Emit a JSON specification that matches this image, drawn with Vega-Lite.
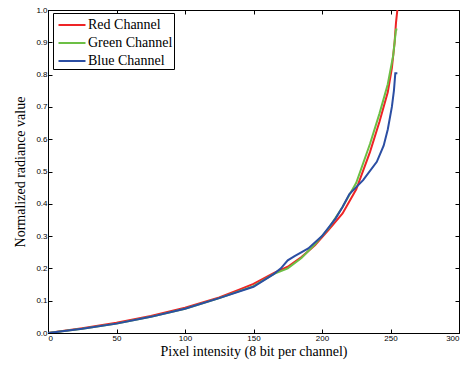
{
  "$schema": "https://vega.github.io/schema/vega-lite/v6.json",
  "width": 411,
  "height": 323,
  "autosize": "none",
  "padding": {"left": 48, "top": 10, "right": 1, "bottom": 32},
  "config": {
    "view": {"stroke": "black", "strokeWidth": 1},
    "axis": {"grid": false, "domainColor": "black", "tickColor": "black", "labelFont": "Liberation Sans, Arial, sans-serif", "labelFontSize": 8, "labelColor": "black", "titleFont": "Liberation Serif, Times New Roman, serif", "titleFontSize": 14, "titleFontWeight": "normal", "titleColor": "black", "tickSize": -4, "labelPadding": 5}
  },
  "data": {"values": [
    {"c":"Red Channel","v":0,"r":0},{"c":"Red Channel","v":25,"r":0.015},{"c":"Red Channel","v":50,"r":0.032},{"c":"Red Channel","v":75,"r":0.053},{"c":"Red Channel","v":100,"r":0.078},{"c":"Red Channel","v":125,"r":0.11},{"c":"Red Channel","v":140,"r":0.135},{"c":"Red Channel","v":150,"r":0.152},{"c":"Red Channel","v":165,"r":0.186},{"c":"Red Channel","v":175,"r":0.205},{"c":"Red Channel","v":185,"r":0.235},{"c":"Red Channel","v":195,"r":0.272},{"c":"Red Channel","v":205,"r":0.32},{"c":"Red Channel","v":215,"r":0.37},{"c":"Red Channel","v":225,"r":0.445},{"c":"Red Channel","v":235,"r":0.56},{"c":"Red Channel","v":242,"r":0.655},{"c":"Red Channel","v":248,"r":0.745},{"c":"Red Channel","v":251,"r":0.82},{"c":"Red Channel","v":253,"r":0.9},{"c":"Red Channel","v":254,"r":0.96},{"c":"Red Channel","v":255,"r":1.0},
    {"c":"Green Channel","v":0,"r":0},{"c":"Green Channel","v":25,"r":0.013},{"c":"Green Channel","v":50,"r":0.029},{"c":"Green Channel","v":75,"r":0.05},{"c":"Green Channel","v":100,"r":0.075},{"c":"Green Channel","v":125,"r":0.108},{"c":"Green Channel","v":150,"r":0.145},{"c":"Green Channel","v":165,"r":0.183},{"c":"Green Channel","v":175,"r":0.2},{"c":"Green Channel","v":185,"r":0.232},{"c":"Green Channel","v":195,"r":0.275},{"c":"Green Channel","v":205,"r":0.325},{"c":"Green Channel","v":215,"r":0.39},{"c":"Green Channel","v":225,"r":0.465},{"c":"Green Channel","v":235,"r":0.585},{"c":"Green Channel","v":242,"r":0.68},{"c":"Green Channel","v":248,"r":0.77},{"c":"Green Channel","v":252,"r":0.86},{"c":"Green Channel","v":254,"r":0.94},{"c":"Green Channel","v":255,"r":0.94},
    {"c":"Blue Channel","v":0,"r":0},{"c":"Blue Channel","v":25,"r":0.013},{"c":"Blue Channel","v":50,"r":0.029},{"c":"Blue Channel","v":75,"r":0.05},{"c":"Blue Channel","v":100,"r":0.075},{"c":"Blue Channel","v":125,"r":0.108},{"c":"Blue Channel","v":150,"r":0.143},{"c":"Blue Channel","v":165,"r":0.183},{"c":"Blue Channel","v":170,"r":0.2},{"c":"Blue Channel","v":175,"r":0.225},{"c":"Blue Channel","v":180,"r":0.238},{"c":"Blue Channel","v":190,"r":0.262},{"c":"Blue Channel","v":200,"r":0.3},{"c":"Blue Channel","v":210,"r":0.355},{"c":"Blue Channel","v":215,"r":0.39},{"c":"Blue Channel","v":220,"r":0.43},{"c":"Blue Channel","v":230,"r":0.473},{"c":"Blue Channel","v":240,"r":0.53},{"c":"Blue Channel","v":245,"r":0.58},{"c":"Blue Channel","v":248,"r":0.63},{"c":"Blue Channel","v":251,"r":0.7},{"c":"Blue Channel","v":252.5,"r":0.75},{"c":"Blue Channel","v":253.5,"r":0.804},{"c":"Blue Channel","v":255,"r":0.804}
  ]},
  "layer": [
    {
      "mark": {"type": "line", "strokeWidth": 2, "clip": true},
      "encoding": {
        "x": {"field": "v", "type": "quantitative", "scale": {"domain": [0, 300], "nice": false}, "axis": {"values": [0,50,100,150,200,250,300], "title": "Pixel intensity (8 bit per channel)", "titlePadding": 2}},
        "y": {"field": "r", "type": "quantitative", "scale": {"domain": [0, 1], "nice": false}, "axis": {"values": [0,0.1,0.2,0.3,0.4,0.5,0.6,0.7,0.8,0.9,1], "title": "Normalized radiance value", "titlePadding": 8}},
        "color": {"field": "c", "type": "nominal", "scale": {"domain": ["Red Channel","Green Channel","Blue Channel"], "range": ["#ee2426","#6cbf45","#2b4ea3"]},
          "legend": {"title": null, "orient": "none", "legendX": 5, "legendY": 3, "symbolType": "M-1.35,0H1.35", "symbolSize": 400, "symbolStrokeWidth": 2, "symbolOffset": 7, "labelFont": "Liberation Serif, Times New Roman, serif", "labelFontSize": 14, "labelColor": "black", "strokeColor": "black", "fillColor": "white", "padding": 1, "rowPadding": -3, "labelOffset": 5}},
        "order": {"field": "v"}
      }
    },
    {
      "mark": {"type": "rule", "opacity": 0},
      "encoding": {
        "x": {"datum": 0, "type": "quantitative", "axis": {"orient": "top", "values": [0,50,100,150,200,250,300], "labels": false, "title": null, "domain": false}},
        "y": {"datum": 0, "type": "quantitative", "axis": {"orient": "right", "values": [0,0.1,0.2,0.3,0.4,0.5,0.6,0.7,0.8,0.9,1], "labels": false, "title": null, "domain": false}}
      }
    }
  ],
  "resolve": {"axis": {"x": "independent", "y": "independent"}}
}
